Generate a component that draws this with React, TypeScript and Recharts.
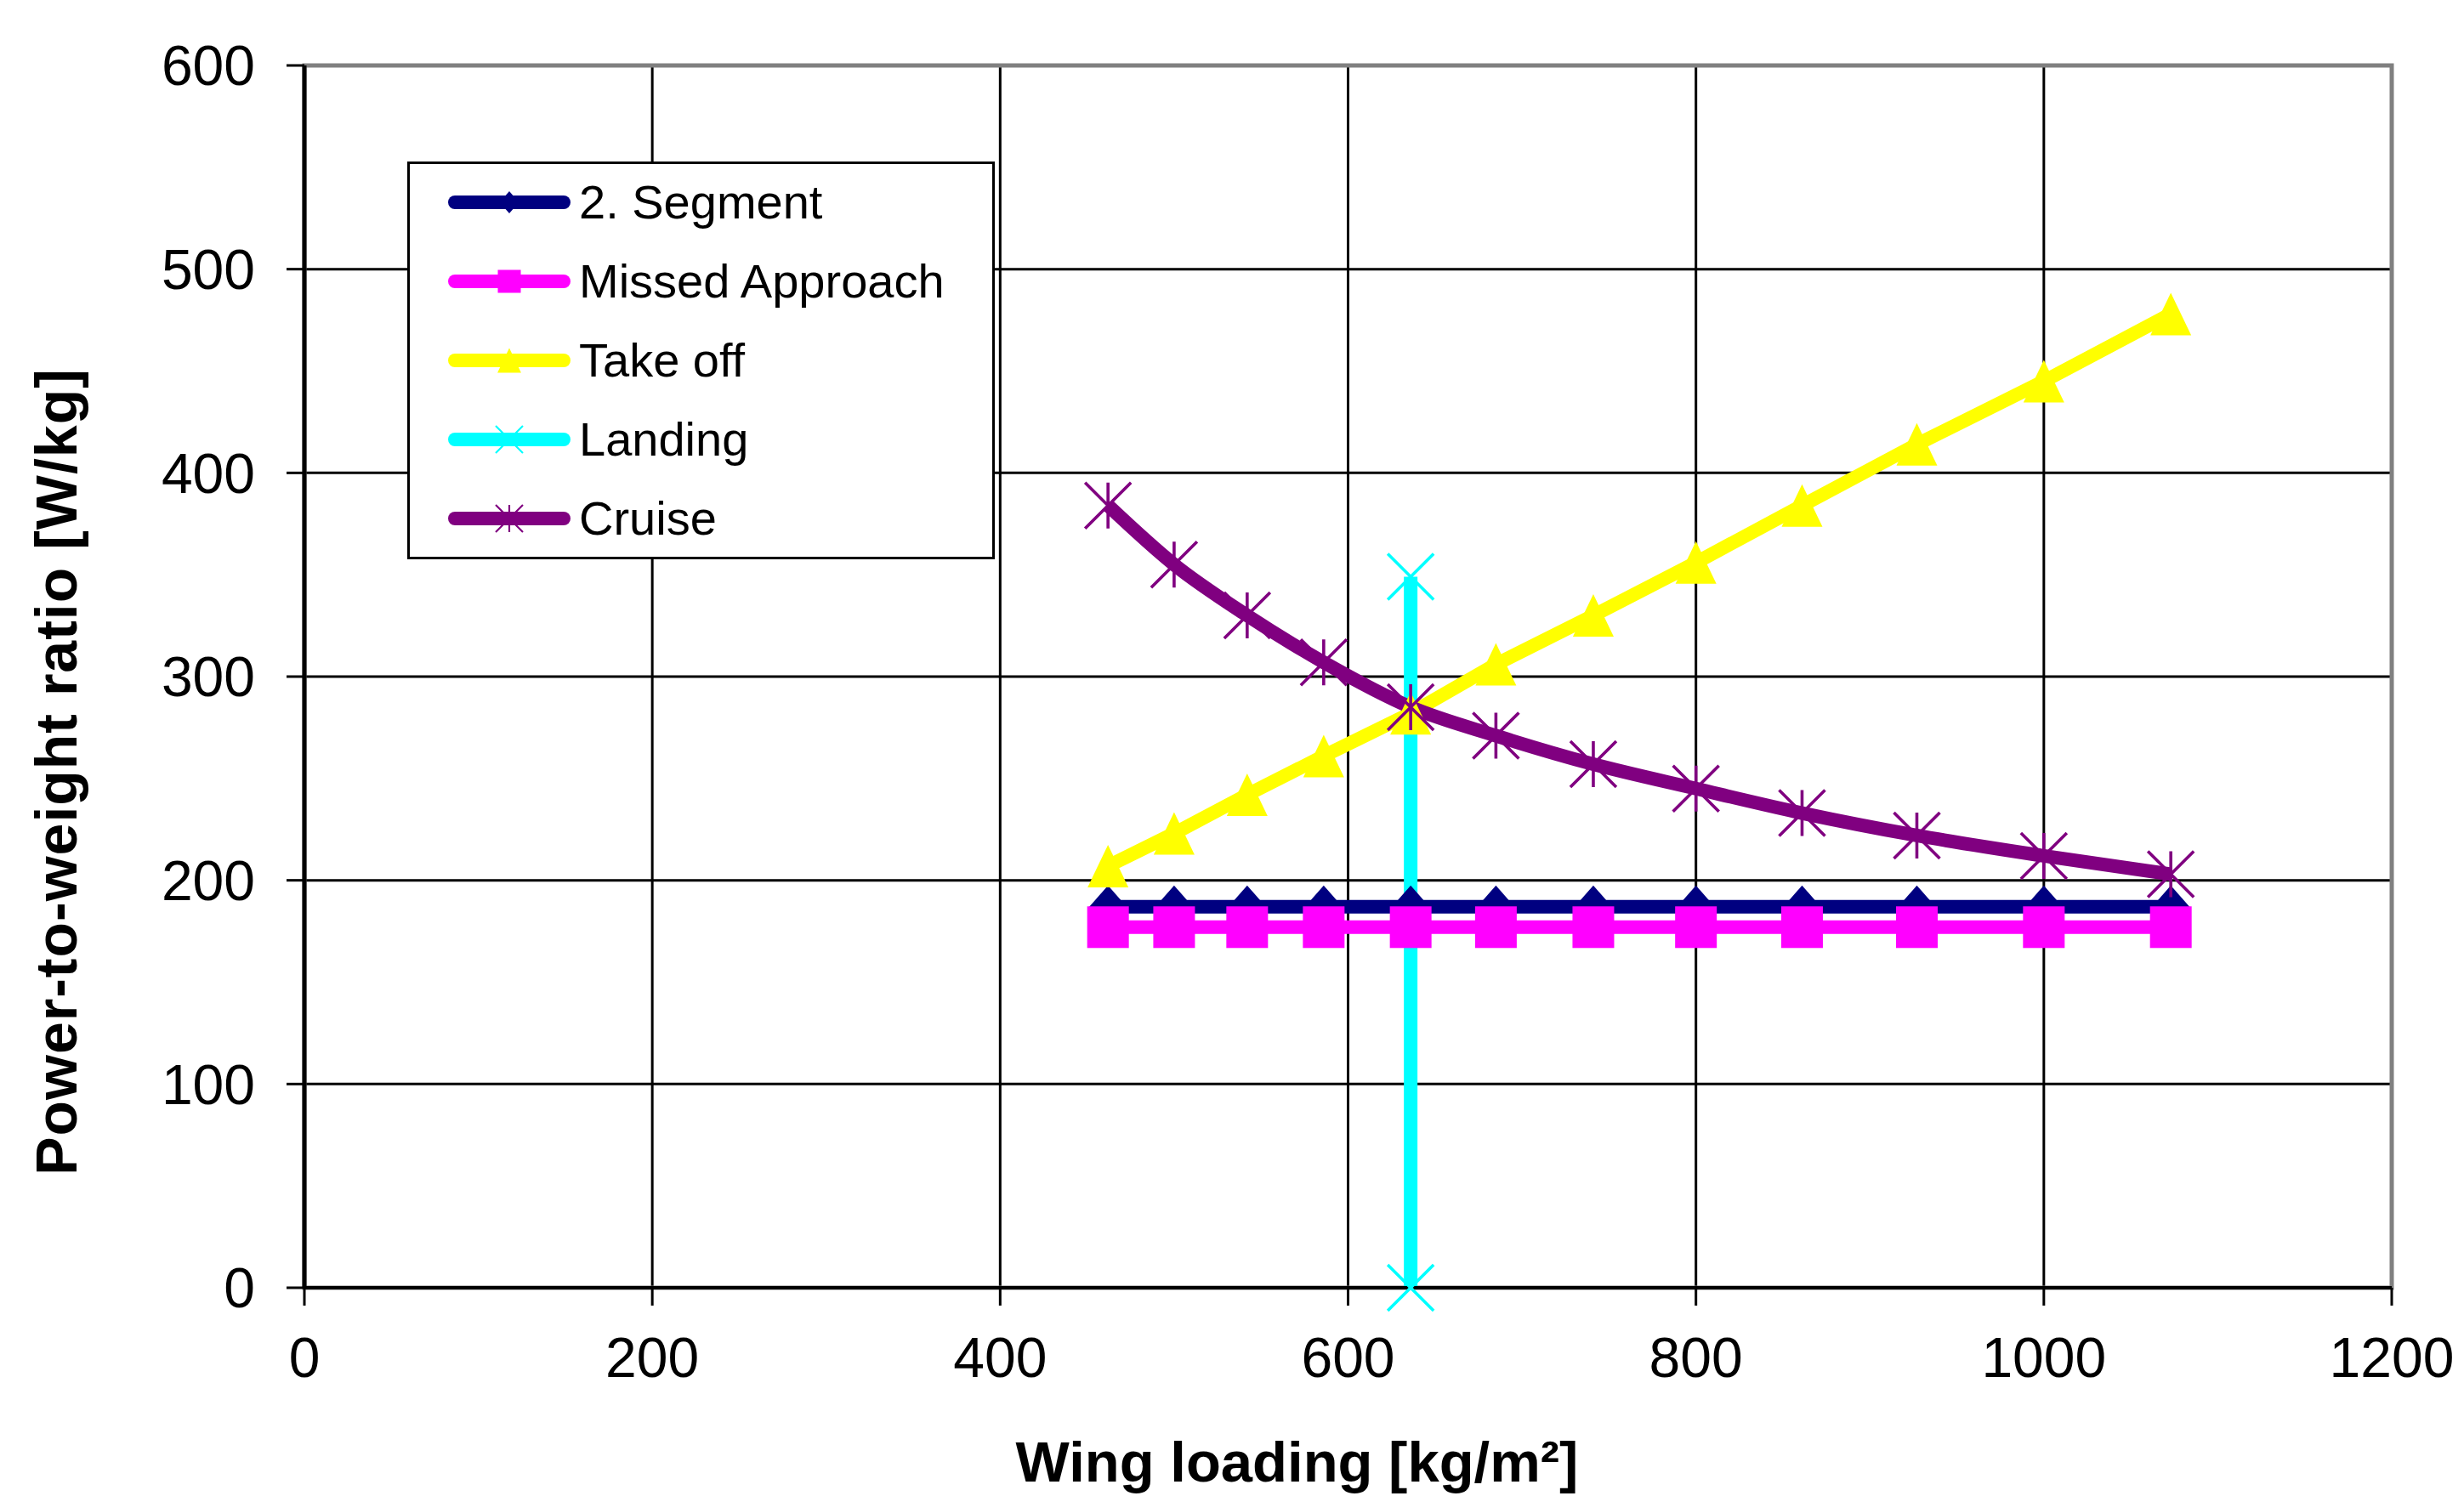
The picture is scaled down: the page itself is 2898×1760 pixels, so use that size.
import React from 'react';
import { LineChart, Line, XAxis, YAxis, CartesianGrid, Legend, ReferenceArea } from 'recharts';

// wing loading [kg/m²] shared by the constraint curves
const wingLoading = [462, 500, 542, 586, 636, 685, 741, 800, 861, 927, 1000, 1073];
const segment2 = [187, 187, 187, 187, 187, 187, 187, 187, 187, 187, 187, 187];
const missedApproach = [177, 177, 177, 177, 177, 177, 177, 177, 177, 177, 177, 177];
const takeOff = [207, 223, 242, 261, 282, 306, 330, 356, 384, 414, 445, 478];
const cruise = [384, 355, 330, 307, 285, 271, 257, 245, 233, 222, 212, 203];
const landingX = [636, 636];
const landingY = [0, 349];

const xTicks = [0, 200, 400, 600, 800, 1000, 1200];
const yTicks = [0, 100, 200, 300, 400, 500, 600];

const FONT = '"Liberation Sans", Arial, Helvetica, sans-serif';

const toPoints = (xs: number[], ys: number[]) => xs.map((x, i) => ({ x, y: ys[i] }));

type Shape = 'diamond' | 'square' | 'triangle' | 'cross' | 'star';

const Marker = ({ cx, cy, shape, color, size }: { cx: number; cy: number; shape: Shape; color: string; size: number }) => {
  const h = size / 2;
  if (shape === 'diamond') {
    return <polygon points={`${cx},${cy - h} ${cx + h * 0.88},${cy} ${cx},${cy + h} ${cx - h * 0.88},${cy}`} fill={color} />;
  }
  if (shape === 'square') {
    return <rect x={cx - h} y={cy - h} width={size} height={size} fill={color} />;
  }
  if (shape === 'triangle') {
    return <polygon points={`${cx},${cy - h} ${cx + h * 0.96},${cy + h} ${cx - h * 0.96},${cy + h}`} fill={color} />;
  }
  const x = `M${cx - h},${cy - h}L${cx + h},${cy + h}M${cx + h},${cy - h}L${cx - h},${cy + h}`;
  const d = shape === 'star' ? `${x}M${cx},${cy - h}L${cx},${cy + h}` : x;
  return <path d={d} stroke={color} strokeWidth={Math.max(2, size / 15)} fill="none" />;
};

const series = [
  { name: '2. Segment', color: '#000080', shape: 'diamond' as Shape, size: 50, legendSize: 26, curve: 'linear', data: toPoints(wingLoading, segment2) },
  { name: 'Missed Approach', color: '#FF00FF', shape: 'square' as Shape, size: 49, legendSize: 27, curve: 'linear', data: toPoints(wingLoading, missedApproach) },
  { name: 'Take off', color: '#FFFF00', shape: 'triangle' as Shape, size: 50, legendSize: 29, curve: 'linear', data: toPoints(wingLoading, takeOff) },
  { name: 'Landing', color: '#00FFFF', shape: 'cross' as Shape, size: 54, legendSize: 32, curve: 'linear', data: toPoints(landingX, landingY) },
  { name: 'Cruise', color: '#800080', shape: 'star' as Shape, size: 54, legendSize: 32, curve: 'monotone', data: toPoints(wingLoading, cruise) },
];

const LegendBox = () => (
  <div
    style={{
      width: 691,
      height: 468,
      boxSizing: 'border-box',
      border: '3.5px solid #000',
      background: '#fff',
      fontFamily: FONT,
      fontSize: 56,
      color: '#000',
    }}
  >
    {series.map((s) => (
      <div key={s.name} style={{ display: 'flex', alignItems: 'center', height: 93, marginTop: -2, marginBottom: 2 }}>
        <svg width={160} height={60} style={{ marginLeft: 37, flex: 'none' }}>
          <line x1={16} y1={30} x2={144} y2={30} stroke={s.color} strokeWidth={16} strokeLinecap="round" />
          <Marker cx={80} cy={30} shape={s.shape} color={s.color} size={s.legendSize} />
        </svg>
        <span style={{ marginLeft: 2, lineHeight: 1, whiteSpace: 'nowrap' }}>{s.name}</span>
      </div>
    ))}
  </div>
);

const tickStyle = { fill: '#000', fontSize: 66, fontFamily: FONT };

export default function App() {
  return (
    <div style={{ position: 'absolute', left: 0, top: 0, width: 2898, height: 1760, background: '#fff' }}>
      <LineChart width={2898} height={1760} margin={{ top: 77, right: 85, bottom: 0, left: 0 }}>
        <CartesianGrid stroke="#000" strokeWidth={3} />
        <ReferenceArea x1={0} x2={1200} y1={0} y2={600} fill="none" stroke="#808080" strokeWidth={5} />
        <XAxis
          type="number"
          dataKey="x"
          domain={[0, 1200]}
          ticks={xTicks}
          height={245}
          tickSize={21}
          tickMargin={37}
          tick={tickStyle}
          axisLine={{ stroke: '#000', strokeWidth: 4 }}
          tickLine={{ stroke: '#000', strokeWidth: 3 }}
          label={{
            content: (props: any) => {
              const vb = props.viewBox;
              return (
                <text x={vb.x + vb.width / 2 - 60} y={vb.y + 228} textAnchor="middle" fontFamily={FONT} fontSize={67} fontWeight="bold" fill="#000">
                  Wing loading [kg/m²]
                </text>
              );
            },
          }}
        />
        <YAxis
          type="number"
          dataKey="y"
          domain={[0, 600]}
          ticks={yTicks}
          width={358}
          tickSize={21}
          tickMargin={37}
          tick={tickStyle}
          axisLine={{ stroke: '#000', strokeWidth: 5 }}
          tickLine={{ stroke: '#000', strokeWidth: 3 }}
          label={{
            content: (props: any) => {
              const vb = props.viewBox;
              const cx = vb.x + 66;
              const cy = vb.y + vb.height / 2 + 112;
              return (
                <text
                  x={cx}
                  y={cy}
                  transform={`rotate(-90 ${cx} ${cy})`}
                  textAnchor="middle"
                  dominantBaseline="central"
                  fontFamily={FONT}
                  fontSize={68}
                  fontWeight="bold"
                  letterSpacing={1}
                  fill="#000"
                >
                  Power-to-weight ratio [W/kg]
                </text>
              );
            },
          }}
        />
        <Legend
          layout="horizontal"
          verticalAlign="middle"
          align="center"
          content={() => <LegendBox />}
          wrapperStyle={{ left: 479, top: 190, width: 691, height: 468 }}
        />
        {series.map((s) => (
          <Line
            key={s.name}
            data={s.data}
            dataKey="y"
            name={s.name}
            type={s.curve as any}
            stroke={s.color}
            strokeWidth={16}
            isAnimationActive={false}
            activeDot={false}
            dot={(p: any) => (
              <g key={`${s.name}-${p.index}`}>
                <Marker cx={p.cx} cy={p.cy} shape={s.shape} color={s.color} size={s.size} />
              </g>
            )}
          />
        ))}
      </LineChart>
    </div>
  );
}
